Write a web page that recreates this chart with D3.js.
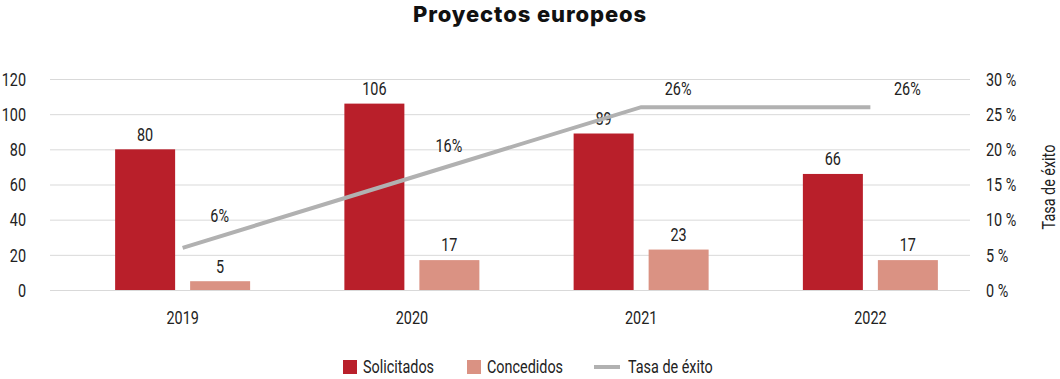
<!DOCTYPE html>
<html>
<head>
<meta charset="utf-8">
<script src="https://cdn.jsdelivr.net/npm/d3@7"></script>
<style>
  html, body { margin: 0; padding: 0; background: #fff; }
  svg { display: block; }
  .lbl { font-family: Roboto, "Liberation Sans", sans-serif; fill: #222; }
</style>
</head>
<body>
<svg id="chart" width="1060" height="379"></svg>
<script>
// Chart data
const years = ["2019", "2020", "2021", "2022"];
const solicitados = [80, 106, 89, 66];
const concedidos = [5, 17, 23, 17];
const tasaExito = [6, 16, 26, 26];          // %
const leftTicks = [0, 20, 40, 60, 80, 100, 120];
const rightTicks = [0, 5, 10, 15, 20, 25, 30];
const seriesNames = ["Solicitados", "Concedidos", "Tasa de éxito"];

const colors = { sol: "#B91F2A", con: "#DA9283", line: "#B1B1B1", grid: "#D9D9D9" };
const fontSize = 18;
const squeeze = 0.8;   // horizontal condensing for label text

const svg = d3.select("#chart");

const plot = { left: 50, right: 970, top: 79, bottom: 290 };

const x = d3.scaleBand().domain(years).range([68, 985]).paddingInner(0).paddingOuter(0);
const yL = d3.scaleLinear().domain([0, 120]).range([plot.bottom, plot.top]);
const yR = d3.scaleLinear().domain([0, 30]).range([plot.bottom, plot.top]);
const center = d => x(d) + x.bandwidth() / 2;
const inner = d3.scaleBand().domain(["sol", "con"]).range([-67.5, 67.5]).paddingInner(0.2).paddingOuter(0);

// Places a condensed label at (px, py)
function label(parent, px, py, txt, anchor) {
  return parent.append("text").attr("class", "lbl")
    .attr("transform", `translate(${px},${py}) scale(${squeeze},1)`)
    .attr("text-anchor", anchor || "middle").attr("dy", "0.35em")
    .style("font-size", fontSize + "px")
    .text(txt);
}
function condenseAxis(g) {
  g.select(".domain").remove();
  g.selectAll("text").attr("class", "lbl")
    .style("font-size", fontSize + "px").attr("dy", "0.35em")
    .attr("transform", `scale(${squeeze},1)`);
}

// Title
svg.append("text")
  .attr("x", 530).attr("y", 22)
  .attr("text-anchor", "middle")
  .style("font-family", "Inter, 'Open Sans', sans-serif")
  .style("font-weight", 800)
  .style("font-size", "22px")
  .style("letter-spacing", "0.9px")
  .style("fill", "#111")
  .text("Proyectos europeos");

// Gridlines
svg.append("g").selectAll("line").data(leftTicks).join("line")
  .attr("x1", plot.left).attr("x2", plot.right)
  .attr("y1", d => yL(d) + 0.5).attr("y2", d => yL(d) + 0.5)
  .attr("stroke", colors.grid).attr("stroke-width", 1);

// Left axis
svg.append("g").attr("transform", `translate(26,0)`)
  .call(d3.axisLeft(yL).tickValues(leftTicks).tickSize(0).tickPadding(0))
  .call(condenseAxis);

// Right axis
svg.append("g").attr("transform", `translate(986,0)`)
  .call(d3.axisRight(yR).tickValues(rightTicks).tickSize(0).tickPadding(0).tickFormat(d => d + " %"))
  .call(condenseAxis);

// Right axis title
svg.append("text").attr("class", "lbl")
  .attr("transform", `translate(1049,187) rotate(-90) scale(${squeeze},1)`)
  .attr("text-anchor", "middle").attr("dy", "0.35em")
  .style("font-size", fontSize + "px")
  .text("Tasa de éxito");

// X axis labels
svg.append("g").attr("transform", `translate(0,${plot.bottom + 28})`)
  .call(d3.axisBottom(x).tickSize(0).tickPadding(0))
  .call(condenseAxis);

// Bars
const barData = years.flatMap((yr, i) => [
  { yr, key: "sol", v: solicitados[i] },
  { yr, key: "con", v: concedidos[i] }
]);
svg.append("g").selectAll("rect").data(barData).join("rect")
  .attr("x", d => center(d.yr) + inner(d.key))
  .attr("width", inner.bandwidth())
  .attr("y", d => yL(d.v))
  .attr("height", d => yL(0) - yL(d.v))
  .attr("fill", d => d.key === "sol" ? colors.sol : colors.con);

// Bar value labels
const barLabels = svg.append("g");
barData.forEach(d => {
  label(barLabels, center(d.yr) + inner(d.key) + inner.bandwidth() / 2, yL(d.v) - 15, d.v);
});

// Success-rate line
const linePts = years.map((yr, i) => ({ yr, v: tasaExito[i] }));
svg.append("path").datum(linePts)
  .attr("fill", "none").attr("stroke", colors.line).attr("stroke-width", 4)
  .attr("d", d3.line().x(d => center(d.yr)).y(d => yR(d.v)));

// Line labels (kept inside the plot area)
const lineLabels = svg.append("g");
linePts.forEach(d => {
  label(lineLabels, center(d.yr) + 37, Math.max(yR(d.v) - 32, plot.top + 10), d.v + "%");
});

// Legend
const leg = svg.append("g").attr("transform", "translate(0,367)");
const legItems = [
  { name: seriesNames[0], x: 343, type: "rect", color: colors.sol },
  { name: seriesNames[1], x: 467, type: "rect", color: colors.con },
  { name: seriesNames[2], x: 594, type: "line", color: colors.line }
];
legItems.forEach(it => {
  if (it.type === "rect") {
    leg.append("rect").attr("x", it.x).attr("y", -7).attr("width", 14).attr("height", 14).attr("fill", it.color);
    label(leg, it.x + 20, 0, it.name, "start");
  } else {
    leg.append("line").attr("x1", it.x).attr("x2", it.x + 26).attr("y1", 0).attr("y2", 0)
      .attr("stroke", it.color).attr("stroke-width", 4);
    label(leg, it.x + 34, 0, it.name, "start");
  }
});
</script>
</body>
</html>
